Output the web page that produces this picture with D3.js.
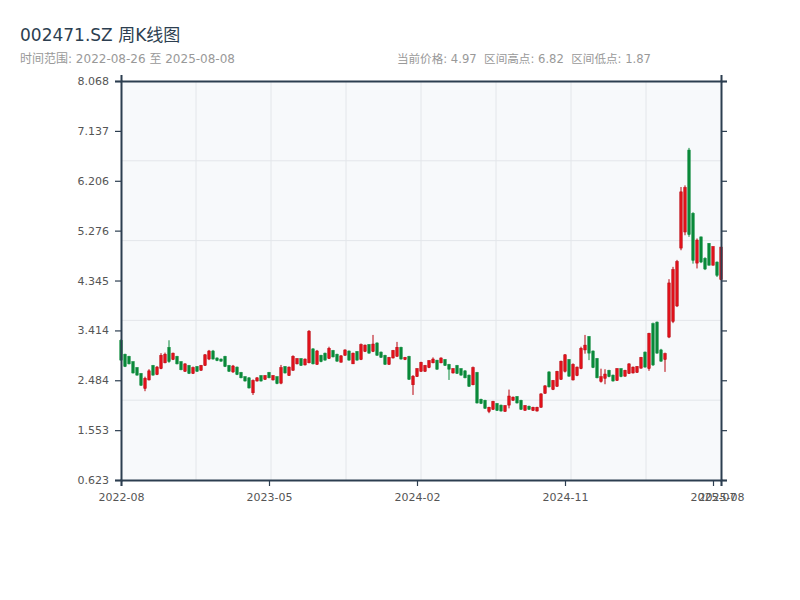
<!DOCTYPE html>
<html><head><meta charset="utf-8">
<script src="https://cdn.jsdelivr.net/npm/d3@7"></script>
<style>
body{margin:0;background:#fff;}
svg text{font-family:"DejaVu Sans","Noto Sans CJK SC",sans-serif;}
</style></head>
<body><svg id="c" width="800" height="600"></svg>
<script>
const dates = ["2022-08-26","2022-09-02","2022-09-09","2022-09-16","2022-09-23","2022-09-30","2022-10-14","2022-10-21","2022-10-28","2022-11-04","2022-11-11","2022-11-18","2022-11-25","2022-12-02","2022-12-09","2022-12-16","2022-12-23","2022-12-30",
"2023-01-06","2023-01-13","2023-01-20","2023-02-03","2023-02-10","2023-02-17","2023-02-24","2023-03-03","2023-03-10","2023-03-17","2023-03-24","2023-03-31","2023-04-07","2023-04-14","2023-04-21","2023-04-28","2023-05-05","2023-05-12","2023-05-19","2023-05-26","2023-06-02","2023-06-09","2023-06-16","2023-06-23","2023-06-30","2023-07-07","2023-07-14","2023-07-21","2023-07-28","2023-08-04","2023-08-11","2023-08-18","2023-08-25","2023-09-01","2023-09-08","2023-09-15","2023-09-22","2023-09-28","2023-10-13","2023-10-20","2023-10-27","2023-11-03","2023-11-10","2023-11-17","2023-11-24","2023-12-01","2023-12-08","2023-12-15","2023-12-22","2023-12-29",
"2024-01-05","2024-01-12","2024-01-19","2024-01-26","2024-02-02","2024-02-08","2024-02-23","2024-03-01","2024-03-08","2024-03-15","2024-03-22","2024-03-29","2024-04-03","2024-04-12","2024-04-19","2024-04-26","2024-04-30","2024-05-10","2024-05-17","2024-05-24","2024-05-31","2024-06-07","2024-06-14","2024-06-21","2024-06-28","2024-07-05","2024-07-12","2024-07-19","2024-07-26","2024-08-02","2024-08-09","2024-08-16","2024-08-23","2024-08-30","2024-09-06","2024-09-13","2024-09-20","2024-09-27","2024-09-30","2024-10-11","2024-10-18","2024-10-25","2024-11-01","2024-11-08","2024-11-15","2024-11-22","2024-11-29","2024-12-06","2024-12-13","2024-12-20","2024-12-27",
"2025-01-03","2025-01-10","2025-01-17","2025-01-24","2025-01-27","2025-02-07","2025-02-14","2025-02-21","2025-02-28","2025-03-07","2025-03-14","2025-03-21","2025-03-28","2025-04-03","2025-04-11","2025-04-18","2025-04-25","2025-04-30","2025-05-09","2025-05-16","2025-05-23","2025-05-30","2025-06-06","2025-06-13","2025-06-20","2025-06-27","2025-07-04","2025-07-11","2025-07-18","2025-07-25","2025-08-01","2025-08-08"];

const openV = [3.23,2.97,2.93,2.83,2.72,2.61,2.33,2.49,2.76,2.59,2.70,2.81,3.10,2.87,2.93,2.83,2.65,2.76,2.61,2.74,
2.67,2.76,2.88,3.03,2.90,2.88,2.93,2.76,2.64,2.73,2.63,2.55,2.53,2.25,2.47,2.57,2.50,2.63,2.49,2.55,
2.43,2.74,2.57,2.67,2.79,2.89,2.77,2.81,3.07,2.78,2.95,2.99,2.89,3.04,2.97,2.82,2.95,3.03,2.79,3.02,
2.87,3.02,3.15,3.02,3.18,3.01,2.95,2.78,2.90,2.93,3.10,2.87,2.93,2.40,2.55,2.65,2.65,2.72,2.81,2.86,
2.81,2.87,2.78,2.62,2.76,2.70,2.66,2.58,2.40,2.63,2.13,2.11,1.90,1.94,2.05,2.02,1.90,2.02,2.11,2.18,
2.11,1.92,2.00,1.92,1.91,1.98,2.24,2.64,2.31,2.37,2.50,2.65,2.87,2.49,2.57,2.70,3.05,3.30,3.03,2.89,
2.46,2.52,2.67,2.58,2.48,2.70,2.56,2.61,2.62,2.63,2.71,3.01,2.70,3.54,3.57,3.05,2.87,3.29,3.58,3.87,
4.95,5.25,6.78,5.60,4.67,5.16,4.76,5.04,4.63,4.69,4.36];
const highV = [3.25,2.98,2.94,2.84,2.73,2.62,2.55,2.69,2.77,2.75,2.99,3.00,3.23,3.00,2.94,2.84,2.80,2.77,2.74,2.75,
2.77,2.97,3.05,3.05,2.91,2.89,2.94,2.77,2.77,2.74,2.64,2.56,2.54,2.50,2.54,2.58,2.58,2.64,2.58,2.56,
2.77,2.75,2.74,2.95,2.89,2.89,2.89,3.42,3.08,3.05,2.96,3.00,3.11,3.05,2.98,2.95,3.06,3.04,3.00,3.03,
3.17,3.15,3.16,3.33,3.19,3.02,2.96,2.92,3.05,3.20,3.11,2.92,2.94,2.58,2.71,2.83,2.77,2.86,2.91,2.86,
2.91,2.88,2.79,2.71,2.77,2.71,2.67,2.59,2.74,2.64,2.14,2.12,1.99,2.10,2.06,2.03,2.02,2.31,2.18,2.19,
2.12,2.02,2.01,1.99,1.99,2.24,2.39,2.65,2.49,2.66,2.85,2.97,2.88,2.80,2.74,3.11,3.33,3.31,3.04,2.90,
2.70,2.69,2.68,2.59,2.71,2.71,2.68,2.80,2.74,2.75,2.92,3.02,3.37,3.56,3.58,3.07,3.00,4.37,4.60,4.73,
6.09,6.12,6.82,5.62,5.13,5.16,4.78,5.04,4.98,4.70,4.97];
const lowV = [2.85,2.73,2.78,2.61,2.57,2.38,2.28,2.48,2.57,2.58,2.69,2.80,2.81,2.86,2.78,2.67,2.64,2.60,2.60,2.64,
2.66,2.75,2.86,2.87,2.84,2.83,2.73,2.64,2.62,2.58,2.52,2.46,2.33,2.21,2.46,2.46,2.49,2.52,2.48,2.41,
2.41,2.61,2.57,2.66,2.78,2.75,2.76,2.80,2.78,2.77,2.82,2.85,2.88,2.91,2.83,2.82,2.94,2.85,2.79,2.85,
2.86,3.01,2.98,3.01,2.94,2.90,2.77,2.77,2.89,2.92,2.87,2.86,2.49,2.21,2.55,2.64,2.64,2.71,2.80,2.68,
2.80,2.75,2.49,2.61,2.60,2.57,2.52,2.36,2.39,2.05,2.04,1.95,1.87,1.93,1.91,1.90,1.90,1.96,2.10,2.05,
1.93,1.92,1.93,1.91,1.90,1.97,2.23,2.35,2.30,2.36,2.49,2.63,2.55,2.48,2.56,2.69,2.98,2.86,2.71,2.52,
2.44,2.41,2.54,2.46,2.47,2.54,2.55,2.60,2.61,2.62,2.70,2.72,2.66,2.75,2.98,2.83,2.64,3.27,3.55,3.85,
4.91,5.19,5.16,4.66,4.57,4.67,4.54,4.63,4.63,4.41,4.35];
const closeV = [2.86,2.74,2.79,2.62,2.58,2.39,2.52,2.66,2.58,2.73,2.95,2.97,2.83,2.99,2.79,2.68,2.79,2.61,2.72,2.65,
2.76,2.96,3.03,2.88,2.85,2.84,2.74,2.65,2.75,2.59,2.53,2.47,2.34,2.48,2.53,2.47,2.57,2.53,2.57,2.42,
2.72,2.62,2.73,2.93,2.89,2.76,2.88,3.40,2.79,3.03,2.83,2.86,3.08,2.92,2.84,2.94,3.05,2.86,2.99,2.86,
3.15,3.14,2.99,3.16,2.95,2.91,2.78,2.91,3.04,3.10,2.88,2.91,2.50,2.56,2.70,2.82,2.76,2.85,2.88,2.69,
2.90,2.76,2.69,2.70,2.61,2.58,2.53,2.37,2.72,2.06,2.05,1.96,1.98,2.09,1.92,1.91,2.01,2.19,2.17,2.06,
1.94,2.01,1.94,1.98,1.98,2.23,2.38,2.36,2.48,2.65,2.84,2.96,2.56,2.78,2.73,3.08,3.14,2.99,2.72,2.53,
2.55,2.60,2.55,2.47,2.70,2.55,2.67,2.79,2.73,2.74,2.91,2.73,3.36,2.77,2.99,2.84,2.98,4.30,4.55,4.70,
6.00,6.08,5.20,4.72,5.10,4.69,4.56,4.63,4.98,4.44,4.97];

const yTickLabels = ["0.623","1.553","2.484","3.414","4.345","5.276","6.206","7.137","8.068"];
const xTickIndex = [0,37,74,111,148,150];
const titleText = "002471.SZ 周K线图";
const rangeText = "时间范围: 2022-08-26 至 2025-08-08";
const statsText = "当前价格: 4.97  区间高点: 6.82  区间低点: 1.87";

const data = dates.map((d,i)=>({date:d,o:openV[i],h:highV[i],l:lowV[i],c:closeV[i]}));

const svg = d3.select("#c");
const L=121,R=721,T=81,B=480;
const x = d3.scalePoint().domain(d3.range(data.length)).range([L,R]);
const y = d3.scaleLinear().domain([0.623,8.068]).range([B,T]);
const axisColor="#2c3e50";

svg.append("text").attr("x",20).attr("y",41).attr("font-size",17).attr("fill","#2c3e50").text(titleText);
svg.append("text").attr("x",20).attr("y",63).attr("font-size",12).attr("fill","#999").text(rangeText);
svg.append("text").attr("x",651).attr("y",63).attr("font-size",11.6).attr("fill","#999").attr("text-anchor","end").attr("xml:space","preserve").style("white-space","pre").text(statsText);

svg.append("rect").attr("x",L).attr("y",T).attr("width",R-L).attr("height",B-T).attr("fill","#f7f9fb");

// uniform grid
const gx = d3.scaleLinear().domain([0,8]).range([L,R]);
const gy = d3.scaleLinear().domain([0,5]).range([T,B]);
svg.append("g").selectAll("line").data(d3.range(1,8)).join("line")
  .attr("x1",d=>gx(d)).attr("x2",d=>gx(d)).attr("y1",T).attr("y2",B).attr("stroke","#e3e6ea").attr("stroke-width",1);
svg.append("g").selectAll("line").data(d3.range(1,5)).join("line")
  .attr("y1",d=>gy(d)).attr("y2",d=>gy(d)).attr("x1",L).attr("x2",R).attr("stroke","#e3e6ea").attr("stroke-width",1);

// candles
const bw = x.step()*0.62;
const up = "#e0121b", upStroke="#b8000a", down="#0a8a3a";
const cg = svg.append("g");
cg.selectAll("line").data(data).join("line")
  .attr("x1",(d,i)=>x(i)).attr("x2",(d,i)=>x(i))
  .attr("y1",d=>y(d.h)).attr("y2",d=>y(d.l))
  .attr("stroke",d=>d.c>=d.o?upStroke:down).attr("stroke-width",1);
cg.selectAll("rect").data(data).join("rect")
  .attr("x",(d,i)=>x(i)-bw/2).attr("width",bw)
  .attr("y",d=>y(Math.max(d.o,d.c)))
  .attr("height",d=>Math.max(1,Math.abs(y(d.o)-y(d.c))))
  .attr("fill",d=>d.c>=d.o?up:down)
  .attr("stroke",d=>d.c>=d.o?upStroke:down).attr("stroke-width",0.5);

// axes
const yTicks = yTickLabels.map(Number);
const yAxis = d3.axisLeft(y).tickValues(yTicks).tickFormat((d,i)=>yTickLabels[i]).tickSize(6).tickSizeOuter(6).tickPadding(6);
const yAxisR = d3.axisRight(y).tickValues(yTicks).tickFormat("").tickSize(6).tickSizeOuter(6);
const xAxis = d3.axisBottom(x).tickValues(xTickIndex).tickFormat(i=>dates[i].slice(0,7)).tickSize(6).tickSizeOuter(6);
const xAxisT = d3.axisTop(x).tickValues([]).tickSizeOuter(6);

function style(g){
  g.select(".domain").attr("stroke",axisColor).attr("stroke-width",2);
  g.selectAll(".tick line").attr("stroke",axisColor).attr("stroke-width",1.2);
  g.selectAll(".tick text").attr("fill","#555").attr("font-size",11).attr("font-family","DejaVu Sans, sans-serif");
}
svg.append("g").attr("transform",`translate(${L},0)`).call(yAxis).call(style);
svg.append("g").attr("transform",`translate(${R},0)`).call(yAxisR).call(style);
svg.append("g").attr("transform",`translate(0,${B})`).call(xAxis).call(style).selectAll(".tick text").attr("dy","1.1em");
svg.append("g").attr("transform",`translate(0,${T})`).call(xAxisT).call(style);
</script></body></html>
